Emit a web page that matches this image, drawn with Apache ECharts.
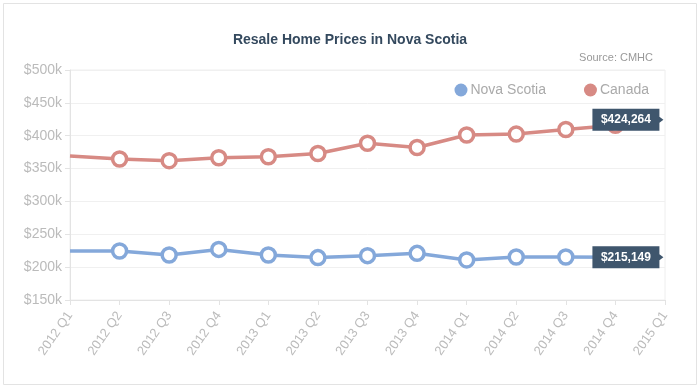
<!DOCTYPE html>
<html>
<head>
<meta charset="utf-8">
<script src="https://cdn.jsdelivr.net/npm/echarts@6/dist/echarts.min.js"></script>
<style>
html,body{margin:0;padding:0;background:#fff;}
#chart{width:700px;height:387px;}
</style>
</head>
<body>
<div id="chart"></div>
<script>
const categories = ['2012 Q1','2012 Q2','2012 Q3','2012 Q4','2013 Q1','2013 Q2','2013 Q3','2013 Q4','2014 Q1','2014 Q2','2014 Q3','2014 Q4','2015 Q1'];
const novaScotia = [224500, 224500, 218500, 227000, 218500, 214500, 217500, 221000, 211000, 215500, 215500, 215149, null];
const canada = [369000, 364500, 362000, 366500, 368000, 373000, 388500, 382000, 401000, 402500, 409500, 416000, null];
const latestCategory = '2014 Q4';
const latestNovaScotia = 215149;
const latestCanada = 424264;
const seriesNames = ['Nova Scotia', 'Canada'];
const yTicks = { min: 150000, max: 500000, interval: 50000 };

const NS_COLOR = '#84a8da';
const CA_COLOR = '#d78a84';
const FONT = 'Liberation Sans, Arial, Helvetica, sans-serif';

function withFirstHidden(arr) {
  return arr.map((v, i) => i === 0 ? { value: v, symbol: 'none' } : v);
}
function fmtMoney(v) {
  return '$' + v.toLocaleString('en-US');
}
function tagPoint(value) {
  return {
    symbol: 'path://M0,0L67,0L67,8L71,11L67,14L67,22L0,22Z',
    symbolSize: [71, 22],
    symbolOffset: [12.5, 0],
    silent: true,
    itemStyle: { color: '#3f566d' },
    label: {
      show: true, position: 'inside', offset: [-2, 0],
      color: '#fff', fontSize: 12, fontWeight: 'bold', fontFamily: FONT,
      formatter: () => fmtMoney(value)
    },
    data: [{ coord: [latestCategory, value] }]
  };
}
function lineSeries(name, data, color, latest) {
  return {
    name: name, type: 'line', data: withFirstHidden(data),
    symbol: 'circle', symbolSize: 14, showSymbol: true,
    lineStyle: { color: color, width: 3.5 },
    itemStyle: { color: '#fff', borderColor: color, borderWidth: 3.5 },
    emphasis: { disabled: true },
    connectNulls: false,
    markPoint: tagPoint(latest)
  };
}

const chart = echarts.init(document.getElementById('chart'), null, { renderer: 'canvas' });
chart.setOption({
  animation: false,
  backgroundColor: '#fff',
  textStyle: { fontFamily: FONT },
  graphic: [{
    type: 'rect', silent: true, z: -10,
    shape: { x: 3.5, y: 3.5, width: 693, height: 381 },
    style: { fill: 'none', stroke: '#e3e3e3', lineWidth: 1 }
  }],
  title: [
    { text: 'Resale Home Prices in Nova Scotia', left: 'center', top: 28,
      textStyle: { fontSize: 14, fontWeight: 'bold', color: '#34495e', fontFamily: FONT } },
    { text: 'Source: CMHC', right: 42, top: 47,
      textStyle: { fontSize: 11, fontWeight: 'normal', color: '#999', fontFamily: FONT } }
  ],
  legend: {
    data: [
      { name: seriesNames[0], itemStyle: { color: NS_COLOR, borderWidth: 0 } },
      { name: seriesNames[1], itemStyle: { color: CA_COLOR, borderWidth: 0 } }
    ],
    icon: 'circle', itemWidth: 13, itemHeight: 13, itemGap: 38,
    right: 46, top: 78,
    textStyle: { color: '#aaa', fontSize: 14, fontFamily: FONT, padding: [0, 0, 0, -2] }
  },
  grid: { left: 70, right: 35, top: 70, bottom: 87, containLabel: false, show: true, borderColor: '#eeeeee', borderWidth: 1 },
  xAxis: {
    type: 'category', data: categories, boundaryGap: false,
    axisLine: { show: true, lineStyle: { color: '#e3e3e3' } },
    axisTick: { show: true, alignWithLabel: true, length: 5, lineStyle: { color: '#e3e3e3' } },
    axisLabel: { rotate: 55, margin: 13, color: '#bbb', fontSize: 13, fontFamily: FONT, interval: 0 },
    splitLine: { show: false }
  },
  yAxis: {
    type: 'value', min: yTicks.min, max: yTicks.max, interval: yTicks.interval,
    axisLine: { show: true, lineStyle: { color: '#e3e3e3' } },
    axisTick: { show: true, length: 5, lineStyle: { color: '#e3e3e3' } },
    axisLabel: { color: '#bbb', fontSize: 14, fontFamily: FONT, margin: 8,
      formatter: v => '$' + (v / 1000) + 'k' },
    splitLine: { show: true, lineStyle: { color: '#f0f0f0' } }
  },
  series: [
    lineSeries(seriesNames[0], novaScotia, NS_COLOR, latestNovaScotia),
    lineSeries(seriesNames[1], canada, CA_COLOR, latestCanada)
  ]
});
</script>
</body>
</html>
